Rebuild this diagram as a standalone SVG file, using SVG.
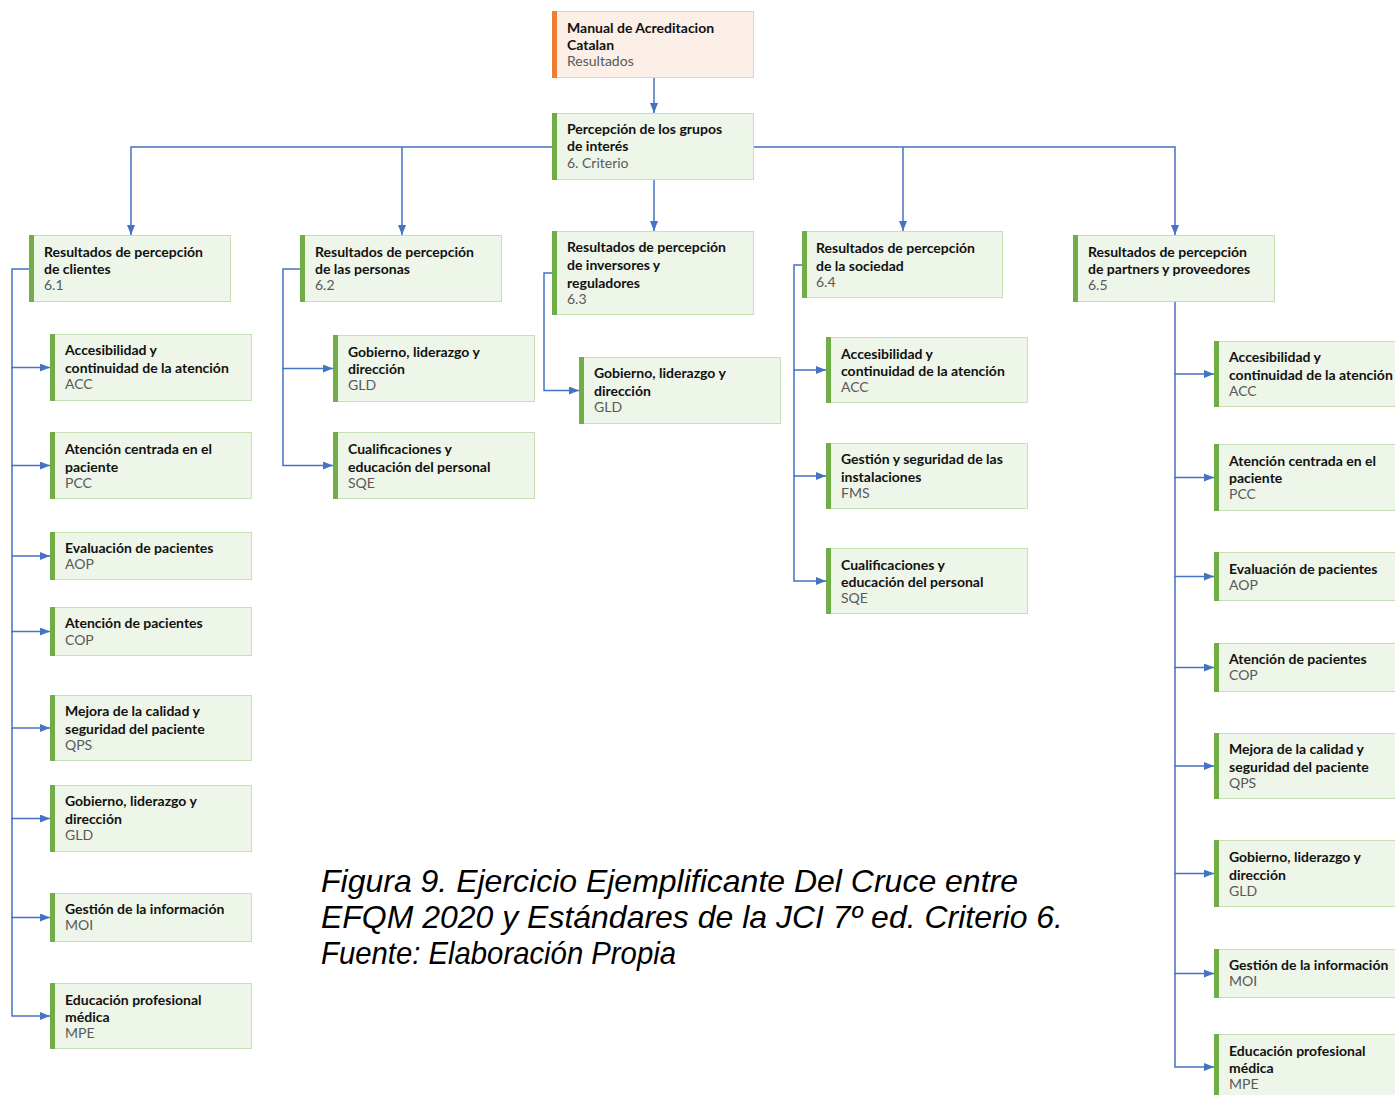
<svg xmlns="http://www.w3.org/2000/svg" width="1395" height="1095" viewBox="0 0 1395 1095">
<defs>
<style>
.box{fill:#EEF5E9;stroke:#C5E0B4;stroke-width:1}
.bar{fill:#70AD47}
.obox{fill:#FBEFE7;stroke:#F8CBAD;stroke-width:1}
.obar{fill:#ED7D31}
.t{font-family:Lato,"Open Sans",sans-serif;font-weight:700;font-size:14px;fill:#111111}
.s{font-family:Lato,"Open Sans",sans-serif;font-weight:400;font-size:14px;fill:#595959}
.conn{fill:none;stroke:#4472C4;stroke-width:1.5;marker-end:url(#arr)}
.cap{font-family:"Liberation Sans",Arial,sans-serif;font-style:italic;font-size:32px;fill:#000000}
</style>
<marker id="arr" viewBox="0 0 10 8" refX="10" refY="4" markerWidth="10" markerHeight="8" markerUnits="userSpaceOnUse" orient="auto">
<path d="M0,0 L10,4 L0,8 Z" fill="#4472C4"/>
</marker>
</defs>
<rect x="0" y="0" width="1395" height="1095" fill="#FFFFFF"/>

<g id="connectors">
<path class="conn" d="M654 78 V113"/>
<path class="conn" d="M552 147 H131 V235"/>
<path class="conn" d="M402 147 V235"/>
<path class="conn" d="M654 179 V231"/>
<path class="conn" d="M754 147 H1175 V235"/>
<path class="conn" d="M903 147 V231"/>
<path class="conn" d="M29 269 H12 V367.5 H50"/>
<path class="conn" d="M12 367 V465.5 H50"/>
<path class="conn" d="M12 465 V556 H50"/>
<path class="conn" d="M12 556 V631.5 H50"/>
<path class="conn" d="M12 631 V728 H50"/>
<path class="conn" d="M12 728 V818.5 H50"/>
<path class="conn" d="M12 818 V917.5 H50"/>
<path class="conn" d="M12 917 V1016 H50"/>
<path class="conn" d="M300 269 H283 V368.5 H333"/>
<path class="conn" d="M283 368 V465.5 H333"/>
<path class="conn" d="M552 273 H544 V390.5 H579"/>
<path class="conn" d="M802 265 H794 V370 H826"/>
<path class="conn" d="M794 370 V476 H826"/>
<path class="conn" d="M794 476 V581 H826"/>
<path class="conn" d="M1175 302 V374 H1214"/>
<path class="conn" d="M1175 374 V477.5 H1214"/>
<path class="conn" d="M1175 477 V576.5 H1214"/>
<path class="conn" d="M1175 576 V667.5 H1214"/>
<path class="conn" d="M1175 667 V766 H1214"/>
<path class="conn" d="M1175 766 V873.5 H1214"/>
<path class="conn" d="M1175 873 V973.5 H1214"/>
<path class="conn" d="M1175 973 V1067 H1214"/>
</g>

<g id="root">
<rect class="obox" x="552.5" y="11.5" width="201" height="66"/>
<rect class="obar" x="552" y="11" width="5" height="67"/>
<text class="t" x="567" y="33">Manual de Acreditacion</text>
<text class="t" x="567" y="50">Catalan</text>
<text class="s" x="567" y="66">Resultados</text>
</g>

<g id="criterio">
<rect class="box" x="552.5" y="113.5" width="201" height="66"/>
<rect class="bar" x="552" y="113" width="5" height="67"/>
<text class="t" x="567" y="134">Percepción de los grupos</text>
<text class="t" x="567" y="151">de interés</text>
<text class="s" x="567" y="168">6. Criterio</text>
</g>

<g id="n61">
<rect class="box" x="29.5" y="235.5" width="201" height="66"/>
<rect class="bar" x="29" y="235" width="5" height="67"/>
<text class="t" x="44" y="257">Resultados de percepción</text>
<text class="t" x="44" y="274">de clientes</text>
<text class="s" x="44" y="290">6.1</text>
</g>

<g id="n62">
<rect class="box" x="300.5" y="235.5" width="201" height="66"/>
<rect class="bar" x="300" y="235" width="5" height="67"/>
<text class="t" x="315" y="257">Resultados de percepción</text>
<text class="t" x="315" y="274">de las personas</text>
<text class="s" x="315" y="290">6.2</text>
</g>

<g id="n63">
<rect class="box" x="552.5" y="231.5" width="201" height="83"/>
<rect class="bar" x="552" y="231" width="5" height="84"/>
<text class="t" x="567" y="252">Resultados de percepción</text>
<text class="t" x="567" y="270">de inversores y</text>
<text class="t" x="567" y="288">reguladores</text>
<text class="s" x="567" y="304">6.3</text>
</g>

<g id="n64">
<rect class="box" x="802.5" y="231.5" width="200" height="66"/>
<rect class="bar" x="802" y="231" width="5" height="67"/>
<text class="t" x="816" y="253">Resultados de percepción</text>
<text class="t" x="816" y="271">de la sociedad</text>
<text class="s" x="816" y="287">6.4</text>
</g>

<g id="n65">
<rect class="box" x="1073.5" y="235.5" width="201" height="66"/>
<rect class="bar" x="1073" y="235" width="5" height="67"/>
<text class="t" x="1088" y="257">Resultados de percepción</text>
<text class="t" x="1088" y="274">de partners y proveedores</text>
<text class="s" x="1088" y="290">6.5</text>
</g>

<g id="n61-acc">
<rect class="box" x="50.5" y="334.5" width="201" height="66"/>
<rect class="bar" x="50" y="334" width="5" height="67"/>
<text class="t" x="65" y="355">Accesibilidad y</text>
<text class="t" x="65" y="373">continuidad de la atención</text>
<text class="s" x="65" y="389">ACC</text>
</g>
<g id="n61-pcc">
<rect class="box" x="50.5" y="432.5" width="201" height="66"/>
<rect class="bar" x="50" y="432" width="5" height="67"/>
<text class="t" x="65" y="454">Atención centrada en el</text>
<text class="t" x="65" y="472">paciente</text>
<text class="s" x="65" y="488">PCC</text>
</g>
<g id="n61-aop">
<rect class="box" x="50.5" y="532.5" width="201" height="47"/>
<rect class="bar" x="50" y="532" width="5" height="48"/>
<text class="t" x="65" y="553">Evaluación de pacientes</text>
<text class="s" x="65" y="569">AOP</text>
</g>
<g id="n61-cop">
<rect class="box" x="50.5" y="607.5" width="201" height="48"/>
<rect class="bar" x="50" y="607" width="5" height="49"/>
<text class="t" x="65" y="628">Atención de pacientes</text>
<text class="s" x="65" y="645">COP</text>
</g>
<g id="n61-qps">
<rect class="box" x="50.5" y="695.5" width="201" height="65"/>
<rect class="bar" x="50" y="695" width="5" height="66"/>
<text class="t" x="65" y="716">Mejora de la calidad y</text>
<text class="t" x="65" y="734">seguridad del paciente</text>
<text class="s" x="65" y="750">QPS</text>
</g>
<g id="n61-gld">
<rect class="box" x="50.5" y="785.5" width="201" height="66"/>
<rect class="bar" x="50" y="785" width="5" height="67"/>
<text class="t" x="65" y="806">Gobierno, liderazgo y</text>
<text class="t" x="65" y="824">dirección</text>
<text class="s" x="65" y="840">GLD</text>
</g>
<g id="n61-moi">
<rect class="box" x="50.5" y="893.5" width="201" height="48"/>
<rect class="bar" x="50" y="893" width="5" height="49"/>
<text class="t" x="65" y="914">Gestión de la información</text>
<text class="s" x="65" y="930">MOI</text>
</g>
<g id="n61-mpe">
<rect class="box" x="50.5" y="983.5" width="201" height="65"/>
<rect class="bar" x="50" y="983" width="5" height="66"/>
<text class="t" x="65" y="1005">Educación profesional</text>
<text class="t" x="65" y="1022">médica</text>
<text class="s" x="65" y="1038">MPE</text>
</g>

<g id="n62-gld">
<rect class="box" x="333.5" y="335.5" width="201" height="66"/>
<rect class="bar" x="333" y="335" width="5" height="67"/>
<text class="t" x="348" y="357">Gobierno, liderazgo y</text>
<text class="t" x="348" y="374">dirección</text>
<text class="s" x="348" y="390">GLD</text>
</g>
<g id="n62-sqe">
<rect class="box" x="333.5" y="432.5" width="201" height="66"/>
<rect class="bar" x="333" y="432" width="5" height="67"/>
<text class="t" x="348" y="454">Cualificaciones y</text>
<text class="t" x="348" y="472">educación del personal</text>
<text class="s" x="348" y="488">SQE</text>
</g>

<g id="n63-gld">
<rect class="box" x="579.5" y="357.5" width="201" height="66"/>
<rect class="bar" x="579" y="357" width="5" height="67"/>
<text class="t" x="594" y="378">Gobierno, liderazgo y</text>
<text class="t" x="594" y="396">dirección</text>
<text class="s" x="594" y="412">GLD</text>
</g>

<g id="n64-acc">
<rect class="box" x="826.5" y="337.5" width="201" height="65"/>
<rect class="bar" x="826" y="337" width="5" height="66"/>
<text class="t" x="841" y="359">Accesibilidad y</text>
<text class="t" x="841" y="376">continuidad de la atención</text>
<text class="s" x="841" y="392">ACC</text>
</g>
<g id="n64-fms">
<rect class="box" x="826.5" y="443.5" width="201" height="65"/>
<rect class="bar" x="826" y="443" width="5" height="66"/>
<text class="t" x="841" y="464">Gestión y seguridad de las</text>
<text class="t" x="841" y="482">instalaciones</text>
<text class="s" x="841" y="498">FMS</text>
</g>
<g id="n64-sqe">
<rect class="box" x="826.5" y="548.5" width="201" height="65"/>
<rect class="bar" x="826" y="548" width="5" height="66"/>
<text class="t" x="841" y="570">Cualificaciones y</text>
<text class="t" x="841" y="587">educación del personal</text>
<text class="s" x="841" y="603">SQE</text>
</g>

<g id="n65-acc">
<rect class="box" x="1214.5" y="341.5" width="201" height="65"/>
<rect class="bar" x="1214" y="341" width="5" height="66"/>
<text class="t" x="1229" y="362">Accesibilidad y</text>
<text class="t" x="1229" y="380">continuidad de la atención</text>
<text class="s" x="1229" y="396">ACC</text>
</g>
<g id="n65-pcc">
<rect class="box" x="1214.5" y="444.5" width="201" height="66"/>
<rect class="bar" x="1214" y="444" width="5" height="67"/>
<text class="t" x="1229" y="466">Atención centrada en el</text>
<text class="t" x="1229" y="483">paciente</text>
<text class="s" x="1229" y="499">PCC</text>
</g>
<g id="n65-aop">
<rect class="box" x="1214.5" y="552.5" width="201" height="48"/>
<rect class="bar" x="1214" y="552" width="5" height="49"/>
<text class="t" x="1229" y="574">Evaluación de pacientes</text>
<text class="s" x="1229" y="590">AOP</text>
</g>
<g id="n65-cop">
<rect class="box" x="1214.5" y="643.5" width="201" height="48"/>
<rect class="bar" x="1214" y="643" width="5" height="49"/>
<text class="t" x="1229" y="664">Atención de pacientes</text>
<text class="s" x="1229" y="680">COP</text>
</g>
<g id="n65-qps">
<rect class="box" x="1214.5" y="733.5" width="201" height="65"/>
<rect class="bar" x="1214" y="733" width="5" height="66"/>
<text class="t" x="1229" y="754">Mejora de la calidad y</text>
<text class="t" x="1229" y="772">seguridad del paciente</text>
<text class="s" x="1229" y="788">QPS</text>
</g>
<g id="n65-gld">
<rect class="box" x="1214.5" y="840.5" width="201" height="66"/>
<rect class="bar" x="1214" y="840" width="5" height="67"/>
<text class="t" x="1229" y="862">Gobierno, liderazgo y</text>
<text class="t" x="1229" y="880">dirección</text>
<text class="s" x="1229" y="896">GLD</text>
</g>
<g id="n65-moi">
<rect class="box" x="1214.5" y="949.5" width="201" height="48"/>
<rect class="bar" x="1214" y="949" width="5" height="49"/>
<text class="t" x="1229" y="970">Gestión de la información</text>
<text class="s" x="1229" y="986">MOI</text>
</g>
<g id="n65-mpe">
<rect class="box" x="1214.5" y="1034.5" width="201" height="66"/>
<rect class="bar" x="1214" y="1034" width="5" height="67"/>
<text class="t" x="1229" y="1056">Educación profesional</text>
<text class="t" x="1229" y="1073">médica</text>
<text class="s" x="1229" y="1089">MPE</text>
</g>

<g id="caption">
<text class="cap" x="321" y="892" textLength="697" lengthAdjust="spacingAndGlyphs">Figura 9. Ejercicio Ejemplificante Del Cruce entre</text>
<text class="cap" x="321" y="928" textLength="742" lengthAdjust="spacingAndGlyphs">EFQM 2020 y Estándares de la JCI 7º ed. Criterio 6.</text>
<text class="cap" x="321" y="964" textLength="355" lengthAdjust="spacingAndGlyphs">Fuente: Elaboración Propia</text>
</g>
</svg>
